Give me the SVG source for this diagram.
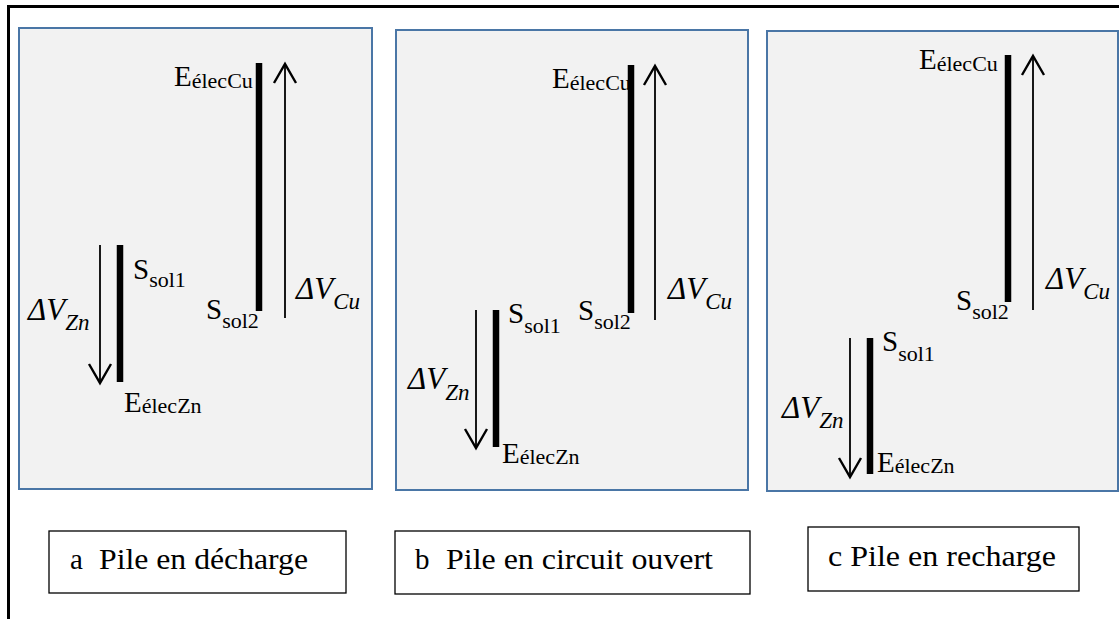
<svg xmlns="http://www.w3.org/2000/svg" width="1119" height="619" viewBox="0 0 1119 619">
<style>
.panel{fill:#f2f2f2;stroke:#4a76a6;stroke-width:2}
.lbox{fill:#ffffff;stroke:#000000;stroke-width:1.3}
.bar{stroke:#000000;stroke-width:6.5;fill:none}
.arr{stroke:#000000;stroke-width:1.8;fill:none}
text{font-family:'Liberation Serif','Times New Roman',serif;fill:#000}
.big{font-size:29px}
.sub{font-size:22px}
.it{font-style:italic;font-size:31px}
.it .sub{font-size:23px}
.lt{font-size:29px}
</style>
<defs>
<marker id="chev" markerUnits="userSpaceOnUse" viewBox="-22 -14 25 28" refX="0" refY="0" markerWidth="25" markerHeight="28" orient="auto">
<path d="M-19,-11 L0,0 L-19,11" fill="none" stroke="#000" stroke-width="2.4"/>
</marker>
</defs>
<rect width="1119" height="619" fill="#ffffff"/>
<g id="frame">
<path d="M8.5,619 V6.5 H1119" fill="none" stroke="#000" stroke-width="3"/>
</g>

<g id="panel-a">
<rect class="panel" x="19" y="28" width="353" height="461"/>
<line class="bar" x1="259" y1="63" x2="259" y2="311"/>
<line class="bar" x1="120" y1="245" x2="120" y2="382"/>
<text class="big" x="174" y="86">E<tspan class="sub" dy="2">élecCu</tspan></text>
<text class="big" x="206" y="319">S<tspan class="sub" dy="9">sol2</tspan></text>
<text class="big" x="133" y="279">S<tspan class="sub" dy="8">sol1</tspan></text>
<text class="big" x="124" y="412">E<tspan class="sub" dy="1">élecZn</tspan></text>
<text class="it" x="28" y="320">ΔV<tspan class="sub" dy="10">Zn</tspan></text>
<text class="it" x="296" y="299">ΔV<tspan class="sub" dy="10">Cu</tspan></text>
</g>

<g id="panel-b">
<rect class="panel" x="396" y="30" width="352" height="460"/>
<line class="bar" x1="631" y1="65" x2="631" y2="313"/>
<line class="bar" x1="496" y1="310" x2="496" y2="447"/>
<text class="big" x="552" y="88">E<tspan class="sub" dy="2">élecCu</tspan></text>
<text class="big" x="578" y="320">S<tspan class="sub" dy="9">sol2</tspan></text>
<text class="big" x="508" y="323">S<tspan class="sub" dy="10">sol1</tspan></text>
<text class="big" x="502" y="463">E<tspan class="sub" dy="1">élecZn</tspan></text>
<text class="it" x="408" y="389">ΔV<tspan class="sub" dy="11">Zn</tspan></text>
<text class="it" x="668" y="299">ΔV<tspan class="sub" dy="10">Cu</tspan></text>
</g>

<g id="panel-c">
<rect class="panel" x="767" y="31" width="351" height="460"/>
<line class="bar" x1="1008" y1="55" x2="1008" y2="302"/>
<line class="bar" x1="870" y1="338" x2="870" y2="474"/>
<text class="big" x="919" y="69">E<tspan class="sub" dy="2">élecCu</tspan></text>
<text class="big" x="956" y="310">S<tspan class="sub" dy="9">sol2</tspan></text>
<text class="big" x="882" y="351">S<tspan class="sub" dy="10">sol1</tspan></text>
<text class="big" x="877" y="472">E<tspan class="sub" dy="1">élecZn</tspan></text>
<text class="it" x="782" y="418">ΔV<tspan class="sub" dy="10">Zn</tspan></text>
<text class="it" x="1046" y="289">ΔV<tspan class="sub" dy="10">Cu</tspan></text>
</g>

<g id="connectors">
<line class="arr" x1="285" y1="318" x2="285" y2="64" marker-end="url(#chev)"/>
<line class="arr" x1="100" y1="245" x2="100" y2="383" marker-end="url(#chev)"/>
<line class="arr" x1="655" y1="320" x2="655" y2="66" marker-end="url(#chev)"/>
<line class="arr" x1="476" y1="310" x2="476" y2="448" marker-end="url(#chev)"/>
<line class="arr" x1="1033" y1="310" x2="1033" y2="56" marker-end="url(#chev)"/>
<line class="arr" x1="850" y1="338" x2="850" y2="477" marker-end="url(#chev)"/>
</g>

<g id="label-a">
<rect class="lbox" x="49" y="531" width="297" height="62"/>
<text class="lt" x="70" y="569">a<tspan x="99" textLength="209" lengthAdjust="spacingAndGlyphs">Pile en décharge</tspan></text>
</g>
<g id="label-b">
<rect class="lbox" x="395" y="531" width="355" height="63"/>
<text class="lt" x="415" y="569">b<tspan x="446" textLength="267" lengthAdjust="spacingAndGlyphs">Pile en circuit ouvert</tspan></text>
</g>
<g id="label-c">
<rect class="lbox" x="808" y="527" width="271" height="64"/>
<text class="lt" x="828" y="566" textLength="228" lengthAdjust="spacingAndGlyphs">c Pile en recharge</text>
</g>
</svg>
